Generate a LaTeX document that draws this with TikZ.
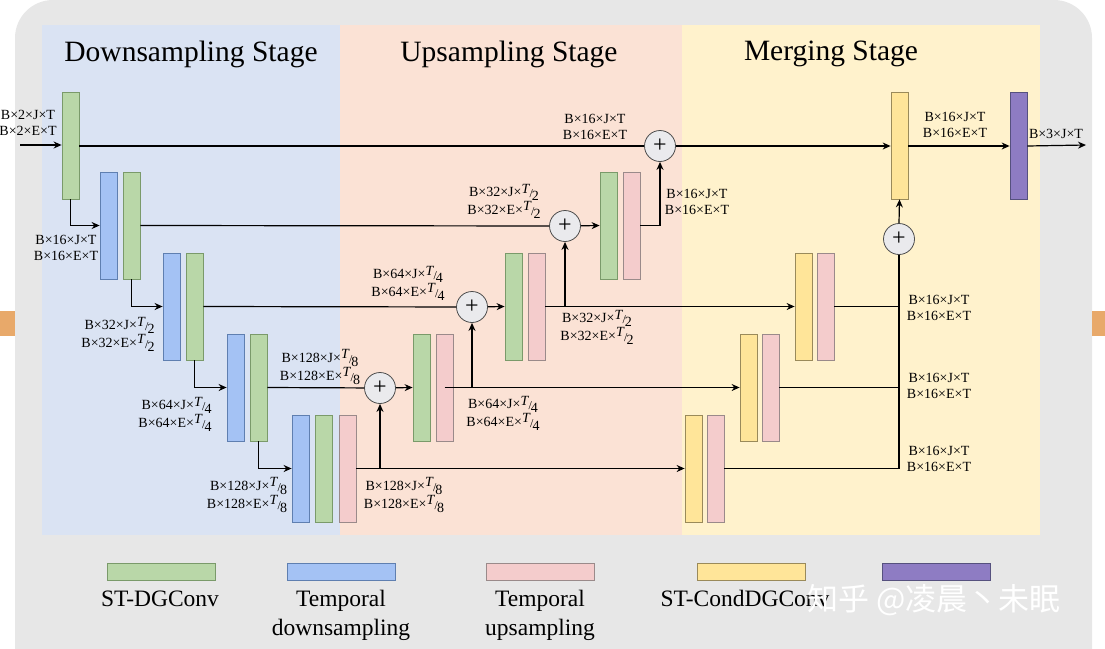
\documentclass[tikz,border=0pt]{standalone}
\usepackage{fontspec}
\setmainfont{Liberation Serif}
\newfontfamily\cjk{Noto Sans CJK SC}
\usetikzlibrary{arrows.meta}
\definecolor{gF}{HTML}{B9D7A8}\definecolor{gD}{HTML}{7A9A6A}
\definecolor{bF}{HTML}{A4C2F4}\definecolor{bD}{HTML}{5F7FB0}
\definecolor{pF}{HTML}{F4CCCC}\definecolor{pD}{HTML}{9A8A8A}
\definecolor{yF}{HTML}{FFE599}\definecolor{yD}{HTML}{9A8A5A}
\definecolor{vF}{HTML}{8E7CC3}\definecolor{vD}{HTML}{56517E}
\definecolor{panB}{HTML}{DAE3F3}\definecolor{panP}{HTML}{FBE2D5}\definecolor{panY}{HTML}{FFF2CC}
\definecolor{outer}{HTML}{E7E7E7}
\definecolor{tab}{HTML}{E8A96A}
\newcommand{\fr}[1]{\raisebox{3.5pt}{\textit{T}}\kern-0.5pt\raisebox{-1pt}{\large/}\kern-1pt\raisebox{-4pt}{#1}}
\begin{document}
\begin{tikzpicture}[x=1pt,y=-1pt,
  bar/.style={draw=#1D,fill=#1F,line width=0.8pt,minimum width=17pt,minimum height=107pt,inner sep=0pt},
  plus/.style={circle,draw=black!70,fill=blue!8!gray!15,line width=0.8pt,minimum size=31pt,inner sep=0pt,font=\fontsize{24}{24}\selectfont},
  conn/.style={line width=1.2pt},
  arr/.style={conn,-{Stealth[length=8pt,width=7pt]}},
  lab/.style={font=\fontsize{14}{16}\selectfont,align=center,inner sep=1pt},
  title/.style={font=\fontsize{29.5}{32}\selectfont},
  leg/.style={font=\fontsize{23.5}{29}\selectfont,align=center}]
\useasboundingbox (0,0) rectangle (1105,648);
\fill[outer,rounded corners=38pt] (15,0) rectangle (1092,690);
\fill[tab] (0,311) rectangle (15,336);
\fill[tab] (1092,311) rectangle (1105,336);
\fill[panB] (42,25) rectangle (340,535);
\fill[panP] (340,25) rectangle (682,535);
\fill[panY] (682,25) rectangle (1040,535);
\node[title] (t1) at (191,54) {Downsampling Stage};
\node[title] (t2) at (509,54) {Upsampling Stage};
\node[title] (t3) at (831,54) {Merging Stage};
% down bars
\node[bar=g] (g0) at (70.5,145.5) {};
\node[bar=b] (b1) at (108.5,225.5) {};\node[bar=g] (g1) at (131.5,225.5) {};
\node[bar=b] (b2) at (171.5,306.5) {};\node[bar=g] (g2) at (194.5,306.5) {};
\node[bar=b] (b3) at (235.5,387.5) {};\node[bar=g] (g3) at (258.5,387.5) {};
\node[bar=b] (b4) at (300.5,468.5) {};\node[bar=g] (g4) at (323.5,468.5) {};\node[bar=p] (p4) at (347.5,468.5) {};
% up bars
\node[bar=g] (ug3) at (421.5,387.5) {};\node[bar=p] (up3) at (444.5,387.5) {};
\node[bar=g] (ug2) at (513.5,306.5) {};\node[bar=p] (up2) at (536.5,306.5) {};
\node[bar=g] (ug1) at (608.5,225.5) {};\node[bar=p] (up1) at (631.5,225.5) {};
% merge bars
\node[bar=y] (y0) at (899.5,145.5) {};
\node[bar=v] (v0) at (1018.5,145.5) {};
\node[bar=y] (my2) at (803.5,306.5) {};\node[bar=p] (mp2) at (825.5,306.5) {};
\node[bar=y] (my3) at (748.5,387.5) {};\node[bar=p] (mp3) at (770.5,387.5) {};
\node[bar=y] (my4) at (693.5,468.5) {};\node[bar=p] (mp4) at (715.5,468.5) {};
% plus
\node[plus] (s3) at (380,388) {+};
\node[plus] (s2) at (472,307) {+};
\node[plus] (s1) at (565,226) {+};
\node[plus] (s0) at (660,146) {+};
\node[plus] (sm) at (899,239) {+};
\coordinate (in) at (20,145);
\coordinate (out) at (1086,145);
% connectors
\draw[arr] (in) -- (g0.west|-in);
\draw[conn] (g0.east|-s0) -- (s0);
\draw[arr] (s0) -- (y0.west|-s0);
\draw[arr] (y0.east|-s0) -- (v0.west|-s0);
\draw[arr] (v0.east|-s0) -- (out);
\draw[arr] (g0.south) |- (b1.west);
\draw[arr] (g1.south) |- (b2.west);
\draw[arr] (g2.south) |- (b3.west);
\draw[arr] (g3.south) |- (b4.west);
\draw[conn] (g1.east) -- (s1);
\draw[conn] (g2.east) -- (s2);
\draw[conn] (g3.east) -- (s3);
\draw[arr] (s1) -- (ug1.west);
\draw[arr] (s2) -- (ug2.west);
\draw[arr] (s3) -- (ug3.west);
\draw[arr] (up1.east) -| (s0.south);
\draw[arr] (up2.east) -- (my2.west);
\draw[arr] (s1.south|-up2.east) -- (s1.south);
\draw[arr] (up3.center) -- (my3.west);
\draw[arr] (s2.south|-up3.east) -- (s2.south);
\draw[arr] (p4.east) -- (my4.west);
\draw[arr] (s3.south|-p4.east) -- (s3.south);
\draw[conn] (mp2.east) -- (sm.center|-mp2.east);
\draw[conn] (mp3.east) -- (sm.center|-mp3.east);
\draw[conn] (mp4.east) -| (sm.south);
\draw[arr] (sm.north) -- (y0.south);
% labels
\node[lab] (l0) at (28,123) {B×2×J×T\\B×2×E×T};
\node[lab] (l1) at (595,127) {B×16×J×T\\B×16×E×T};
\node[lab] (l2) at (955,125) {B×16×J×T\\B×16×E×T};
\node[lab] (l3) at (1056,134) {B×3×J×T};
\node[lab] (l4) at (66,248) {B×16×J×T\\B×16×E×T};
\node[lab,align=right] (l5) at (118,334) {B×32×J×\fr{2}\\B×32×E×\fr{2}};
\node[lab,align=right] (l6) at (175,414) {B×64×J×\fr{4}\\B×64×E×\fr{4}};
\node[lab,align=right] (l7) at (247,495) {B×128×J×\fr{8}\\B×128×E×\fr{8}};
\node[lab] (l8) at (504,201) {B×32×J×\fr{2}\\B×32×E×\fr{2}};
\node[lab] (l9) at (408,283) {B×64×J×\fr{4}\\B×64×E×\fr{4}};
\node[lab] (l10) at (320,367) {B×128×J×\fr{8}\\B×128×E×\fr{8}};
\node[lab] (l11) at (697,202) {B×16×J×T\\B×16×E×T};
\node[lab] (l12) at (597,327) {B×32×J×\fr{2}\\B×32×E×\fr{2}};
\node[lab] (l13) at (503,413) {B×64×J×\fr{4}\\B×64×E×\fr{4}};
\node[lab] (l14) at (404,495) {B×128×J×\fr{8}\\B×128×E×\fr{8}};
\node[lab] (l15) at (939,308) {B×16×J×T\\B×16×E×T};
\node[lab] (l16) at (939,386) {B×16×J×T\\B×16×E×T};
\node[lab] (l17) at (939,459) {B×16×J×T\\B×16×E×T};
% legend
\node[draw=gD,fill=gF,minimum width=108pt,minimum height=17pt] (k1) at (161,571.5) {};
\node[draw=bD,fill=bF,minimum width=108pt,minimum height=17pt] (k2) at (341,571.5) {};
\node[draw=pD,fill=pF,minimum width=108pt,minimum height=17pt] (k3) at (540,571.5) {};
\node[draw=yD,fill=yF,minimum width=108pt,minimum height=17pt] (k4) at (751,571.5) {};
\node[draw=vD,fill=vF,minimum width=108pt,minimum height=17pt] (k5) at (936,571.5) {};
\node[leg,anchor=north] (e1) at (160,587) {ST-DGConv};
\node[leg,anchor=north] (e2) at (341,587) {Temporal\\downsampling};
\node[leg,anchor=north] (e3) at (540,587) {Temporal\\upsampling};
\node[leg,anchor=north] (e4) at (745,587) {ST-CondDGConv};
\node[font=\cjk\fontsize{31}{34}\selectfont,text=white,anchor=west] (wm) at (804,600) {知乎 @凌晨丶未眠};
\end{tikzpicture}
\end{document}
